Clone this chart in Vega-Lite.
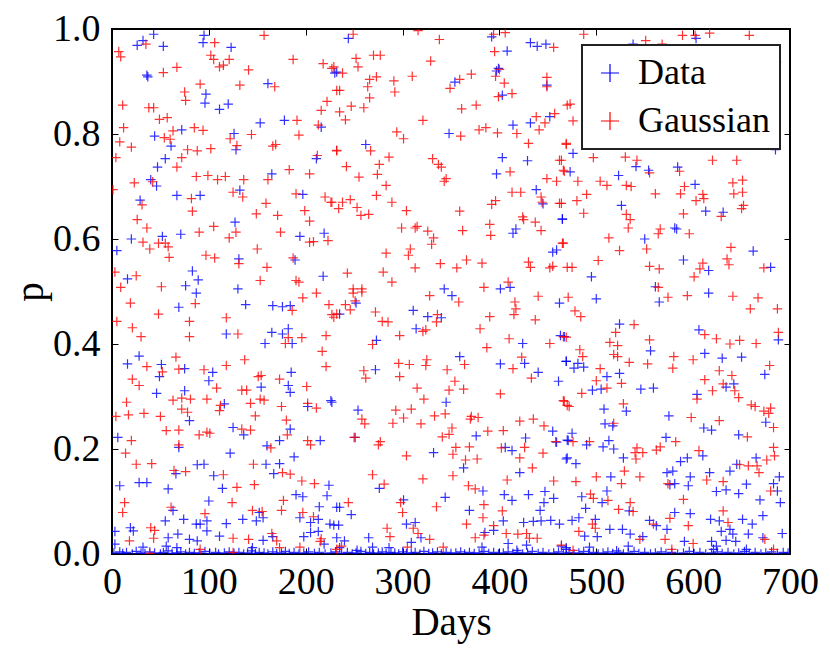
{
  "$schema": "https://vega.github.io/schema/vega-lite/v6.json",
  "width": 678,
  "height": 525,
  "autosize": "none",
  "padding": {"left": 112, "top": 29, "right": 40, "bottom": 100},
  "background": "white",
  "config": {
    "view": {"stroke": "#000000", "strokeWidth": 2},
    "font": "Liberation Serif",
    "legend": {"strokeWidth": 2}
  },
  "data": {
    "values": [
      {"d":43,"p":0.990,"s":"Data"},{"d":32,"p":0.978,"s":"Data"},{"d":26,"p":0.969,"s":"Data"},{"d":53,"p":0.967,"s":"Data"},{"d":95,"p":0.988,"s":"Data"},{"d":94,"p":0.974,"s":"Data"},{"d":123,"p":0.965,"s":"Data"},{"d":36,"p":0.912,"s":"Data"},{"d":37,"p":0.909,"s":"Data"},{"d":161,"p":0.896,"s":"Data"},{"d":97,"p":0.876,"s":"Data"},{"d":96,"p":0.859,"s":"Data"},{"d":111,"p":0.847,"s":"Data"},{"d":120,"p":0.857,"s":"Data"},{"d":153,"p":0.821,"s":"Data"},{"d":178,"p":0.826,"s":"Data"},{"d":216,"p":0.813,"s":"Data"},{"d":44,"p":0.796,"s":"Data"},{"d":72,"p":0.808,"s":"Data"},{"d":126,"p":0.801,"s":"Data"},{"d":128,"p":0.770,"s":"Data"},{"d":61,"p":0.777,"s":"Data"},{"d":55,"p":0.753,"s":"Data"},{"d":47,"p":0.737,"s":"Data"},{"d":211,"p":0.753,"s":"Data"},{"d":165,"p":0.724,"s":"Data"},{"d":40,"p":0.713,"s":"Data"},{"d":46,"p":0.701,"s":"Data"},{"d":132,"p":0.693,"s":"Data"},{"d":67,"p":0.683,"s":"Data"},{"d":91,"p":0.683,"s":"Data"},{"d":197,"p":0.685,"s":"Data"},{"d":29,"p":0.674,"s":"Data"},{"d":127,"p":0.632,"s":"Data"},{"d":20,"p":0.600,"s":"Data"},{"d":52,"p":0.605,"s":"Data"},{"d":71,"p":0.609,"s":"Data"},{"d":194,"p":0.605,"s":"Data"},{"d":219,"p":0.611,"s":"Data"},{"d":5,"p":0.578,"s":"Data"},{"d":131,"p":0.562,"s":"Data"},{"d":189,"p":0.560,"s":"Data"},{"d":83,"p":0.539,"s":"Data"},{"d":89,"p":0.522,"s":"Data"},{"d":16,"p":0.524,"s":"Data"},{"d":218,"p":0.529,"s":"Data"},{"d":76,"p":0.511,"s":"Data"},{"d":130,"p":0.505,"s":"Data"},{"d":232,"p":0.918,"s":"Data"},
      {"d":87,"p":0.497,"s":"Data"},{"d":69,"p":0.470,"s":"Data"},{"d":138,"p":0.475,"s":"Data"},{"d":166,"p":0.473,"s":"Data"},{"d":176,"p":0.471,"s":"Data"},{"d":184,"p":0.473,"s":"Data"},{"d":118,"p":0.419,"s":"Data"},{"d":165,"p":0.422,"s":"Data"},{"d":176,"p":0.419,"s":"Data"},{"d":182,"p":0.429,"s":"Data"},{"d":158,"p":0.401,"s":"Data"},{"d":186,"p":0.401,"s":"Data"},{"d":16,"p":0.362,"s":"Data"},{"d":28,"p":0.377,"s":"Data"},{"d":51,"p":0.361,"s":"Data"},{"d":75,"p":0.353,"s":"Data"},{"d":49,"p":0.338,"s":"Data"},{"d":104,"p":0.346,"s":"Data"},{"d":100,"p":0.330,"s":"Data"},{"d":154,"p":0.318,"s":"Data"},{"d":185,"p":0.346,"s":"Data"},{"d":182,"p":0.321,"s":"Data"},{"d":184,"p":0.308,"s":"Data"},{"d":75,"p":0.311,"s":"Data"},{"d":46,"p":0.306,"s":"Data"},{"d":116,"p":0.286,"s":"Data"},{"d":80,"p":0.254,"s":"Data"},{"d":125,"p":0.241,"s":"Data"},{"d":136,"p":0.227,"s":"Data"},{"d":184,"p":0.238,"s":"Data"},{"d":226,"p":0.292,"s":"Data"},{"d":202,"p":0.281,"s":"Data"},{"d":6,"p":0.222,"s":"Data"},{"d":69,"p":0.203,"s":"Data"},{"d":160,"p":0.206,"s":"Data"},{"d":173,"p":0.216,"s":"Data"},{"d":215,"p":0.216,"s":"Data"},{"d":122,"p":0.192,"s":"Data"},{"d":188,"p":0.185,"s":"Data"},{"d":88,"p":0.170,"s":"Data"},{"d":95,"p":0.171,"s":"Data"},{"d":159,"p":0.171,"s":"Data"},{"d":173,"p":0.172,"s":"Data"},{"d":66,"p":0.153,"s":"Data"},{"d":105,"p":0.149,"s":"Data"},{"d":167,"p":0.153,"s":"Data"},{"d":8,"p":0.130,"s":"Data"},{"d":28,"p":0.136,"s":"Data"},{"d":36,"p":0.136,"s":"Data"},{"d":58,"p":0.124,"s":"Data"},{"d":114,"p":0.125,"s":"Data"},{"d":100,"p":0.101,"s":"Data"},{"d":224,"p":0.131,"s":"Data"},{"d":190,"p":0.113,"s":"Data"},{"d":197,"p":0.109,"s":"Data"},{"d":222,"p":0.111,"s":"Data"},{"d":214,"p":0.090,"s":"Data"},{"d":232,"p":0.089,"s":"Data"},{"d":63,"p":0.083,"s":"Data"},{"d":152,"p":0.079,"s":"Data"},{"d":19,"p":0.050,"s":"Data"},{"d":22,"p":0.044,"s":"Data"},{"d":55,"p":0.063,"s":"Data"},{"d":74,"p":0.066,"s":"Data"},{"d":87,"p":0.057,"s":"Data"},{"d":91,"p":0.057,"s":"Data"},{"d":98,"p":0.063,"s":"Data"},{"d":118,"p":0.058,"s":"Data"},{"d":135,"p":0.066,"s":"Data"},{"d":149,"p":0.063,"s":"Data"},{"d":156,"p":0.069,"s":"Data"},{"d":194,"p":0.069,"s":"Data"},{"d":205,"p":0.060,"s":"Data"},{"d":213,"p":0.066,"s":"Data"},{"d":225,"p":0.057,"s":"Data"},{"d":3,"p":0.043,"s":"Data"},{"d":68,"p":0.038,"s":"Data"},{"d":58,"p":0.031,"s":"Data"},{"d":80,"p":0.028,"s":"Data"},{"d":98,"p":0.044,"s":"Data"},{"d":111,"p":0.034,"s":"Data"},{"d":156,"p":0.026,"s":"Data"},{"d":166,"p":0.033,"s":"Data"},{"d":198,"p":0.033,"s":"Data"},{"d":205,"p":0.041,"s":"Data"},{"d":213,"p":0.043,"s":"Data"},{"d":3,"p":0.019,"s":"Data"},{"d":32,"p":0.013,"s":"Data"},{"d":56,"p":0.015,"s":"Data"},{"d":67,"p":0.012,"s":"Data"},{"d":88,"p":0.025,"s":"Data"},{"d":145,"p":0.012,"s":"Data"},{"d":219,"p":0.019,"s":"Data"},{"d":232,"p":0.031,"s":"Data"},
      {"d":244,"p":0.982,"s":"Data"},{"d":392,"p":0.985,"s":"Data"},{"d":408,"p":0.958,"s":"Data"},{"d":432,"p":0.974,"s":"Data"},{"d":439,"p":0.967,"s":"Data"},{"d":448,"p":0.971,"s":"Data"},{"d":230,"p":0.916,"s":"Data"},{"d":399,"p":0.925,"s":"Data"},{"d":397,"p":0.920,"s":"Data"},{"d":354,"p":0.899,"s":"Data"},{"d":403,"p":0.874,"s":"Data"},{"d":449,"p":0.893,"s":"Data"},{"d":452,"p":0.833,"s":"Data"},{"d":414,"p":0.817,"s":"Data"},{"d":432,"p":0.821,"s":"Data"},{"d":348,"p":0.801,"s":"Data"},{"d":262,"p":0.780,"s":"Data"},{"d":403,"p":0.755,"s":"Data"},{"d":429,"p":0.749,"s":"Data"},{"d":397,"p":0.724,"s":"Data"},{"d":438,"p":0.694,"s":"Data"},{"d":445,"p":0.667,"s":"Data"},{"d":465,"p":0.638,"s":"Data"},{"d":417,"p":0.619,"s":"Data"},{"d":414,"p":0.611,"s":"Data"},{"d":455,"p":0.575,"s":"Data"},{"d":459,"p":0.579,"s":"Data"},{"d":343,"p":0.505,"s":"Data"},{"d":401,"p":0.505,"s":"Data"},{"d":411,"p":0.508,"s":"Data"},
      {"d":252,"p":0.478,"s":"Data"},{"d":351,"p":0.492,"s":"Data"},{"d":235,"p":0.457,"s":"Data"},{"d":311,"p":0.464,"s":"Data"},{"d":326,"p":0.452,"s":"Data"},{"d":340,"p":0.450,"s":"Data"},{"d":314,"p":0.429,"s":"Data"},{"d":273,"p":0.407,"s":"Data"},{"d":462,"p":0.478,"s":"Data"},{"d":424,"p":0.401,"s":"Data"},{"d":463,"p":0.416,"s":"Data"},{"d":359,"p":0.376,"s":"Data"},{"d":272,"p":0.351,"s":"Data"},{"d":401,"p":0.362,"s":"Data"},{"d":426,"p":0.363,"s":"Data"},{"d":440,"p":0.346,"s":"Data"},{"d":469,"p":0.367,"s":"Data"},{"d":461,"p":0.329,"s":"Data"},{"d":227,"p":0.289,"s":"Data"},{"d":345,"p":0.289,"s":"Data"},{"d":254,"p":0.274,"s":"Data"},{"d":376,"p":0.225,"s":"Data"},{"d":427,"p":0.221,"s":"Data"},{"d":406,"p":0.203,"s":"Data"},{"d":413,"p":0.197,"s":"Data"},{"d":455,"p":0.234,"s":"Data"},{"d":459,"p":0.213,"s":"Data"},{"d":470,"p":0.217,"s":"Data"},{"d":251,"p":0.222,"s":"Data"},{"d":332,"p":0.193,"s":"Data"},{"d":363,"p":0.164,"s":"Data"},{"d":421,"p":0.155,"s":"Data"},{"d":469,"p":0.181,"s":"Data"},{"d":276,"p":0.125,"s":"Data"},{"d":383,"p":0.120,"s":"Data"},{"d":405,"p":0.113,"s":"Data"},{"d":413,"p":0.102,"s":"Data"},{"d":430,"p":0.113,"s":"Data"},{"d":447,"p":0.119,"s":"Data"},{"d":456,"p":0.106,"s":"Data"},{"d":446,"p":0.098,"s":"Data"},{"d":442,"p":0.083,"s":"Data"},{"d":344,"p":0.108,"s":"Data"},{"d":369,"p":0.083,"s":"Data"},{"d":235,"p":0.089,"s":"Data"},{"d":247,"p":0.075,"s":"Data"},{"d":301,"p":0.103,"s":"Data"},{"d":229,"p":0.055,"s":"Data"},{"d":234,"p":0.055,"s":"Data"},{"d":304,"p":0.057,"s":"Data"},{"d":313,"p":0.060,"s":"Data"},{"d":404,"p":0.063,"s":"Data"},{"d":425,"p":0.060,"s":"Data"},{"d":435,"p":0.062,"s":"Data"},{"d":443,"p":0.063,"s":"Data"},{"d":453,"p":0.064,"s":"Data"},{"d":462,"p":0.057,"s":"Data"},{"d":265,"p":0.031,"s":"Data"},{"d":319,"p":0.031,"s":"Data"},{"d":309,"p":0.022,"s":"Data"},{"d":240,"p":0.025,"s":"Data"},{"d":385,"p":0.041,"s":"Data"},{"d":394,"p":0.045,"s":"Data"},{"d":409,"p":0.020,"s":"Data"},{"d":428,"p":0.017,"s":"Data"},{"d":235,"p":0.012,"s":"Data"},{"d":253,"p":0.007,"s":"Data"},{"d":269,"p":0.013,"s":"Data"},{"d":286,"p":0.012,"s":"Data"},{"d":382,"p":0.013,"s":"Data"},{"d":418,"p":0.007,"s":"Data"},{"d":469,"p":0.012,"s":"Data"},
      {"d":538,"p":0.971,"s":"Data"},{"d":603,"p":0.982,"s":"Data"},{"d":476,"p":0.763,"s":"Data"},{"d":541,"p":0.738,"s":"Data"},{"d":554,"p":0.731,"s":"Data"},{"d":584,"p":0.737,"s":"Data"},{"d":473,"p":0.728,"s":"Data"},{"d":523,"p":0.721,"s":"Data"},{"d":602,"p":0.704,"s":"Data"},{"d":526,"p":0.664,"s":"Data"},{"d":613,"p":0.653,"s":"Data"},{"d":631,"p":0.651,"s":"Data"},{"d":465,"p":0.638,"s":"Data"},{"d":581,"p":0.621,"s":"Data"},{"d":583,"p":0.619,"s":"Data"},{"d":550,"p":0.600,"s":"Data"},{"d":662,"p":0.577,"s":"Data"},{"d":590,"p":0.560,"s":"Data"},{"d":616,"p":0.540,"s":"Data"},{"d":680,"p":0.546,"s":"Data"},{"d":495,"p":0.528,"s":"Data"},{"d":561,"p":0.509,"s":"Data"},{"d":685,"p":0.770,"s":"Data"},
      {"d":500,"p":0.486,"s":"Data"},{"d":565,"p":0.480,"s":"Data"},{"d":616,"p":0.497,"s":"Data"},{"d":524,"p":0.438,"s":"Data"},{"d":606,"p":0.427,"s":"Data"},{"d":688,"p":0.408,"s":"Data"},{"d":467,"p":0.414,"s":"Data"},{"d":556,"p":0.387,"s":"Data"},{"d":612,"p":0.382,"s":"Data"},{"d":630,"p":0.373,"s":"Data"},{"d":650,"p":0.375,"s":"Data"},{"d":469,"p":0.367,"s":"Data"},{"d":477,"p":0.354,"s":"Data"},{"d":481,"p":0.363,"s":"Data"},{"d":487,"p":0.356,"s":"Data"},{"d":674,"p":0.342,"s":"Data"},{"d":511,"p":0.338,"s":"Data"},{"d":524,"p":0.344,"s":"Data"},{"d":496,"p":0.312,"s":"Data"},{"d":505,"p":0.314,"s":"Data"},{"d":546,"p":0.314,"s":"Data"},{"d":559,"p":0.316,"s":"Data"},{"d":634,"p":0.318,"s":"Data"},{"d":642,"p":0.324,"s":"Data"},{"d":604,"p":0.304,"s":"Data"},{"d":508,"p":0.276,"s":"Data"},{"d":531,"p":0.272,"s":"Data"},{"d":575,"p":0.263,"s":"Data"},{"d":509,"p":0.248,"s":"Data"},{"d":517,"p":0.244,"s":"Data"},{"d":611,"p":0.240,"s":"Data"},{"d":619,"p":0.236,"s":"Data"},{"d":675,"p":0.251,"s":"Data"},{"d":475,"p":0.230,"s":"Data"},{"d":471,"p":0.216,"s":"Data"},{"d":490,"p":0.208,"s":"Data"},{"d":507,"p":0.204,"s":"Data"},{"d":513,"p":0.216,"s":"Data"},{"d":518,"p":0.200,"s":"Data"},{"d":572,"p":0.222,"s":"Data"},{"d":647,"p":0.227,"s":"Data"},{"d":528,"p":0.183,"s":"Data"},{"d":470,"p":0.183,"s":"Data"},{"d":479,"p":0.172,"s":"Data"},{"d":587,"p":0.176,"s":"Data"},{"d":594,"p":0.183,"s":"Data"},{"d":610,"p":0.187,"s":"Data"},{"d":665,"p":0.183,"s":"Data"},{"d":645,"p":0.171,"s":"Data"},{"d":638,"p":0.158,"s":"Data"},{"d":573,"p":0.155,"s":"Data"},{"d":579,"p":0.158,"s":"Data"},{"d":597,"p":0.147,"s":"Data"},{"d":617,"p":0.155,"s":"Data"},{"d":689,"p":0.147,"s":"Data"},{"d":683,"p":0.134,"s":"Data"},{"d":515,"p":0.147,"s":"Data"},{"d":511,"p":0.120,"s":"Data"},{"d":576,"p":0.132,"s":"Data"},{"d":581,"p":0.134,"s":"Data"},{"d":595,"p":0.130,"s":"Data"},{"d":624,"p":0.119,"s":"Data"},{"d":634,"p":0.122,"s":"Data"},{"d":647,"p":0.115,"s":"Data"},{"d":655,"p":0.133,"s":"Data"},{"d":687,"p":0.120,"s":"Data"},{"d":690,"p":0.098,"s":"Data"},{"d":669,"p":0.103,"s":"Data"},{"d":485,"p":0.109,"s":"Data"},{"d":506,"p":0.098,"s":"Data"},{"d":489,"p":0.087,"s":"Data"},{"d":534,"p":0.082,"s":"Data"},{"d":581,"p":0.079,"s":"Data"},{"d":597,"p":0.077,"s":"Data"},{"d":672,"p":0.073,"s":"Data"},{"d":475,"p":0.064,"s":"Data"},{"d":482,"p":0.069,"s":"Data"},{"d":499,"p":0.066,"s":"Data"},{"d":555,"p":0.064,"s":"Data"},{"d":562,"p":0.054,"s":"Data"},{"d":618,"p":0.066,"s":"Data"},{"d":627,"p":0.063,"s":"Data"},{"d":651,"p":0.066,"s":"Data"},{"d":661,"p":0.057,"s":"Data"},{"d":514,"p":0.047,"s":"Data"},{"d":527,"p":0.047,"s":"Data"},{"d":535,"p":0.038,"s":"Data"},{"d":573,"p":0.047,"s":"Data"},{"d":629,"p":0.043,"s":"Data"},{"d":638,"p":0.047,"s":"Data"},{"d":641,"p":0.038,"s":"Data"},{"d":657,"p":0.038,"s":"Data"},{"d":692,"p":0.039,"s":"Data"},{"d":488,"p":0.034,"s":"Data"},{"d":501,"p":0.033,"s":"Data"},{"d":548,"p":0.033,"s":"Data"},{"d":591,"p":0.024,"s":"Data"},{"d":619,"p":0.024,"s":"Data"},{"d":624,"p":0.015,"s":"Data"},{"d":634,"p":0.026,"s":"Data"},{"d":644,"p":0.024,"s":"Data"},{"d":672,"p":0.031,"s":"Data"},{"d":464,"p":0.015,"s":"Data"},{"d":469,"p":0.009,"s":"Data"},{"d":493,"p":0.013,"s":"Data"},{"d":533,"p":0.015,"s":"Data"},{"d":521,"p":0.006,"s":"Data"},{"d":621,"p":0.009,"s":"Data"},{"d":655,"p":0.009,"s":"Data"},
      {"d":2,"p":0.002,"s":"Data"},{"d":8,"p":0.004,"s":"Data"},{"d":11,"p":0.001,"s":"Data"},{"d":15,"p":0.003,"s":"Data"},{"d":21,"p":0.000,"s":"Data"},{"d":25,"p":0.005,"s":"Data"},{"d":30,"p":0.002,"s":"Data"},{"d":34,"p":0.001,"s":"Data"},{"d":39,"p":0.004,"s":"Data"},{"d":44,"p":0.002,"s":"Data"},{"d":50,"p":0.000,"s":"Data"},{"d":53,"p":0.003,"s":"Data"},{"d":58,"p":0.006,"s":"Data"},{"d":62,"p":0.001,"s":"Data"},{"d":67,"p":0.002,"s":"Data"},{"d":71,"p":0.004,"s":"Data"},{"d":76,"p":0.000,"s":"Data"},{"d":80,"p":0.003,"s":"Data"},{"d":85,"p":0.001,"s":"Data"},{"d":90,"p":0.002,"s":"Data"},{"d":96,"p":0.005,"s":"Data"},{"d":101,"p":0.001,"s":"Data"},{"d":107,"p":0.003,"s":"Data"},{"d":110,"p":0.000,"s":"Data"},{"d":116,"p":0.002,"s":"Data"},{"d":121,"p":0.004,"s":"Data"},{"d":126,"p":0.001,"s":"Data"},{"d":131,"p":0.003,"s":"Data"},{"d":136,"p":0.000,"s":"Data"},{"d":140,"p":0.002,"s":"Data"},{"d":144,"p":0.006,"s":"Data"},{"d":148,"p":0.001,"s":"Data"},{"d":152,"p":0.003,"s":"Data"},{"d":157,"p":0.002,"s":"Data"},{"d":161,"p":0.000,"s":"Data"},{"d":166,"p":0.004,"s":"Data"},{"d":170,"p":0.001,"s":"Data"},{"d":175,"p":0.002,"s":"Data"},{"d":179,"p":0.005,"s":"Data"},{"d":183,"p":0.001,"s":"Data"},{"d":188,"p":0.003,"s":"Data"},{"d":193,"p":0.000,"s":"Data"},{"d":198,"p":0.002,"s":"Data"},{"d":203,"p":0.004,"s":"Data"},{"d":209,"p":0.001,"s":"Data"},{"d":214,"p":0.003,"s":"Data"},{"d":220,"p":0.000,"s":"Data"},{"d":226,"p":0.002,"s":"Data"},{"d":231,"p":0.004,"s":"Data"},{"d":237,"p":0.001,"s":"Data"},{"d":243,"p":0.003,"s":"Data"},{"d":248,"p":0.000,"s":"Data"},{"d":252,"p":0.002,"s":"Data"},{"d":257,"p":0.005,"s":"Data"},{"d":262,"p":0.001,"s":"Data"},{"d":266,"p":0.003,"s":"Data"},{"d":270,"p":0.000,"s":"Data"},{"d":275,"p":0.002,"s":"Data"},{"d":279,"p":0.004,"s":"Data"},{"d":283,"p":0.001,"s":"Data"},{"d":288,"p":0.003,"s":"Data"},{"d":292,"p":0.002,"s":"Data"},{"d":296,"p":0.000,"s":"Data"},{"d":300,"p":0.004,"s":"Data"},{"d":304,"p":0.001,"s":"Data"},{"d":309,"p":0.002,"s":"Data"},{"d":313,"p":0.003,"s":"Data"},{"d":318,"p":0.000,"s":"Data"},{"d":322,"p":0.005,"s":"Data"},{"d":327,"p":0.001,"s":"Data"},{"d":331,"p":0.002,"s":"Data"},{"d":336,"p":0.004,"s":"Data"},{"d":340,"p":0.000,"s":"Data"},{"d":345,"p":0.003,"s":"Data"},{"d":350,"p":0.001,"s":"Data"},{"d":355,"p":0.002,"s":"Data"},{"d":360,"p":0.004,"s":"Data"},{"d":364,"p":0.000,"s":"Data"},{"d":369,"p":0.003,"s":"Data"},{"d":374,"p":0.001,"s":"Data"},{"d":379,"p":0.002,"s":"Data"},{"d":384,"p":0.005,"s":"Data"},{"d":389,"p":0.001,"s":"Data"},{"d":394,"p":0.003,"s":"Data"},{"d":399,"p":0.000,"s":"Data"},{"d":404,"p":0.002,"s":"Data"},{"d":409,"p":0.004,"s":"Data"},{"d":414,"p":0.001,"s":"Data"},{"d":419,"p":0.003,"s":"Data"},{"d":424,"p":0.000,"s":"Data"},{"d":429,"p":0.002,"s":"Data"},{"d":434,"p":0.005,"s":"Data"},{"d":440,"p":0.001,"s":"Data"},{"d":445,"p":0.003,"s":"Data"},{"d":451,"p":0.000,"s":"Data"},{"d":456,"p":0.002,"s":"Data"},{"d":461,"p":0.004,"s":"Data"},{"d":466,"p":0.001,"s":"Data"},{"d":472,"p":0.003,"s":"Data"},{"d":477,"p":0.000,"s":"Data"},{"d":482,"p":0.002,"s":"Data"},{"d":487,"p":0.005,"s":"Data"},{"d":492,"p":0.001,"s":"Data"},{"d":497,"p":0.003,"s":"Data"},{"d":502,"p":0.000,"s":"Data"},{"d":507,"p":0.002,"s":"Data"},{"d":512,"p":0.004,"s":"Data"},{"d":517,"p":0.001,"s":"Data"},{"d":523,"p":0.003,"s":"Data"},{"d":528,"p":0.000,"s":"Data"},{"d":533,"p":0.002,"s":"Data"},{"d":539,"p":0.005,"s":"Data"},{"d":544,"p":0.001,"s":"Data"},{"d":550,"p":0.003,"s":"Data"},{"d":556,"p":0.000,"s":"Data"},{"d":561,"p":0.002,"s":"Data"},{"d":567,"p":0.004,"s":"Data"},{"d":572,"p":0.001,"s":"Data"},{"d":578,"p":0.003,"s":"Data"},{"d":584,"p":0.000,"s":"Data"},{"d":590,"p":0.002,"s":"Data"},{"d":596,"p":0.005,"s":"Data"},{"d":601,"p":0.001,"s":"Data"},{"d":607,"p":0.003,"s":"Data"},{"d":613,"p":0.000,"s":"Data"},{"d":619,"p":0.002,"s":"Data"},{"d":625,"p":0.004,"s":"Data"},{"d":630,"p":0.001,"s":"Data"},{"d":636,"p":0.003,"s":"Data"},{"d":642,"p":0.000,"s":"Data"},{"d":647,"p":0.002,"s":"Data"},{"d":653,"p":0.005,"s":"Data"},{"d":658,"p":0.001,"s":"Data"},{"d":664,"p":0.003,"s":"Data"},{"d":670,"p":0.000,"s":"Data"},{"d":675,"p":0.002,"s":"Data"},{"d":681,"p":0.004,"s":"Data"},{"d":687,"p":0.001,"s":"Data"},{"d":693,"p":0.003,"s":"Data"},{"d":698,"p":0.002,"s":"Data"},
      {"d":157,"p":0.988,"s":"Gaussian"},{"d":7,"p":0.957,"s":"Gaussian"},{"d":9,"p":0.947,"s":"Gaussian"},{"d":35,"p":0.971,"s":"Gaussian"},{"d":106,"p":0.974,"s":"Gaussian"},{"d":102,"p":0.950,"s":"Gaussian"},{"d":105,"p":0.942,"s":"Gaussian"},{"d":121,"p":0.942,"s":"Gaussian"},{"d":111,"p":0.928,"s":"Gaussian"},{"d":115,"p":0.931,"s":"Gaussian"},{"d":67,"p":0.927,"s":"Gaussian"},{"d":53,"p":0.917,"s":"Gaussian"},{"d":141,"p":0.922,"s":"Gaussian"},{"d":187,"p":0.942,"s":"Gaussian"},{"d":218,"p":0.934,"s":"Gaussian"},{"d":227,"p":0.925,"s":"Gaussian"},{"d":91,"p":0.895,"s":"Gaussian"},{"d":132,"p":0.893,"s":"Gaussian"},{"d":168,"p":0.890,"s":"Gaussian"},{"d":75,"p":0.880,"s":"Gaussian"},{"d":76,"p":0.864,"s":"Gaussian"},{"d":11,"p":0.855,"s":"Gaussian"},{"d":38,"p":0.850,"s":"Gaussian"},{"d":43,"p":0.850,"s":"Gaussian"},{"d":49,"p":0.828,"s":"Gaussian"},{"d":57,"p":0.831,"s":"Gaussian"},{"d":222,"p":0.862,"s":"Gaussian"},{"d":216,"p":0.845,"s":"Gaussian"},{"d":232,"p":0.883,"s":"Gaussian"},{"d":12,"p":0.812,"s":"Gaussian"},{"d":63,"p":0.806,"s":"Gaussian"},{"d":85,"p":0.812,"s":"Gaussian"},{"d":94,"p":0.807,"s":"Gaussian"},{"d":191,"p":0.826,"s":"Gaussian"},{"d":193,"p":0.798,"s":"Gaussian"},{"d":213,"p":0.817,"s":"Gaussian"},{"d":144,"p":0.799,"s":"Gaussian"},{"d":122,"p":0.791,"s":"Gaussian"},{"d":129,"p":0.778,"s":"Gaussian"},{"d":166,"p":0.777,"s":"Gaussian"},{"d":169,"p":0.780,"s":"Gaussian"},{"d":8,"p":0.785,"s":"Gaussian"},{"d":20,"p":0.775,"s":"Gaussian"},{"d":54,"p":0.793,"s":"Gaussian"},{"d":60,"p":0.790,"s":"Gaussian"},{"d":78,"p":0.770,"s":"Gaussian"},{"d":88,"p":0.768,"s":"Gaussian"},{"d":102,"p":0.772,"s":"Gaussian"},{"d":4,"p":0.755,"s":"Gaussian"},{"d":72,"p":0.755,"s":"Gaussian"},{"d":67,"p":0.737,"s":"Gaussian"},{"d":212,"p":0.759,"s":"Gaussian"},{"d":232,"p":0.769,"s":"Gaussian"},{"d":183,"p":0.732,"s":"Gaussian"},{"d":87,"p":0.719,"s":"Gaussian"},{"d":99,"p":0.721,"s":"Gaussian"},{"d":109,"p":0.713,"s":"Gaussian"},{"d":117,"p":0.719,"s":"Gaussian"},{"d":136,"p":0.713,"s":"Gaussian"},{"d":161,"p":0.713,"s":"Gaussian"},{"d":204,"p":0.724,"s":"Gaussian"},{"d":23,"p":0.707,"s":"Gaussian"},{"d":42,"p":0.709,"s":"Gaussian"},{"d":1,"p":0.694,"s":"Gaussian"},{"d":125,"p":0.689,"s":"Gaussian"},{"d":135,"p":0.680,"s":"Gaussian"},{"d":82,"p":0.677,"s":"Gaussian"},{"d":159,"p":0.668,"s":"Gaussian"},{"d":190,"p":0.686,"s":"Gaussian"},{"d":220,"p":0.680,"s":"Gaussian"},{"d":226,"p":0.670,"s":"Gaussian"},{"d":31,"p":0.665,"s":"Gaussian"},{"d":83,"p":0.653,"s":"Gaussian"},{"d":149,"p":0.648,"s":"Gaussian"},{"d":171,"p":0.645,"s":"Gaussian"},{"d":199,"p":0.654,"s":"Gaussian"},{"d":204,"p":0.634,"s":"Gaussian"},{"d":26,"p":0.637,"s":"Gaussian"},{"d":36,"p":0.621,"s":"Gaussian"},{"d":105,"p":0.624,"s":"Gaussian"},{"d":90,"p":0.613,"s":"Gaussian"},{"d":128,"p":0.613,"s":"Gaussian"},{"d":121,"p":0.602,"s":"Gaussian"},{"d":174,"p":0.613,"s":"Gaussian"},{"d":32,"p":0.594,"s":"Gaussian"},{"d":48,"p":0.592,"s":"Gaussian"},{"d":39,"p":0.581,"s":"Gaussian"},{"d":55,"p":0.592,"s":"Gaussian"},{"d":58,"p":0.585,"s":"Gaussian"},{"d":59,"p":0.565,"s":"Gaussian"},{"d":150,"p":0.581,"s":"Gaussian"},{"d":204,"p":0.594,"s":"Gaussian"},{"d":208,"p":0.595,"s":"Gaussian"},{"d":223,"p":0.597,"s":"Gaussian"},{"d":97,"p":0.569,"s":"Gaussian"},{"d":106,"p":0.564,"s":"Gaussian"},{"d":187,"p":0.564,"s":"Gaussian"},{"d":131,"p":0.553,"s":"Gaussian"},{"d":160,"p":0.546,"s":"Gaussian"},{"d":3,"p":0.537,"s":"Gaussian"},{"d":25,"p":0.530,"s":"Gaussian"},{"d":9,"p":0.508,"s":"Gaussian"},{"d":51,"p":0.509,"s":"Gaussian"},{"d":153,"p":0.521,"s":"Gaussian"},{"d":190,"p":0.521,"s":"Gaussian"},{"d":193,"p":0.518,"s":"Gaussian"},
      {"d":19,"p":0.478,"s":"Gaussian"},{"d":48,"p":0.457,"s":"Gaussian"},{"d":5,"p":0.443,"s":"Gaussian"},{"d":21,"p":0.431,"s":"Gaussian"},{"d":30,"p":0.414,"s":"Gaussian"},{"d":80,"p":0.443,"s":"Gaussian"},{"d":86,"p":0.477,"s":"Gaussian"},{"d":80,"p":0.414,"s":"Gaussian"},{"d":118,"p":0.450,"s":"Gaussian"},{"d":130,"p":0.419,"s":"Gaussian"},{"d":186,"p":0.464,"s":"Gaussian"},{"d":197,"p":0.488,"s":"Gaussian"},{"d":211,"p":0.497,"s":"Gaussian"},{"d":224,"p":0.475,"s":"Gaussian"},{"d":227,"p":0.456,"s":"Gaussian"},{"d":232,"p":0.457,"s":"Gaussian"},{"d":221,"p":0.416,"s":"Gaussian"},{"d":217,"p":0.386,"s":"Gaussian"},{"d":221,"p":0.357,"s":"Gaussian"},{"d":196,"p":0.412,"s":"Gaussian"},{"d":182,"p":0.412,"s":"Gaussian"},{"d":179,"p":0.401,"s":"Gaussian"},{"d":36,"p":0.357,"s":"Gaussian"},{"d":66,"p":0.375,"s":"Gaussian"},{"d":69,"p":0.352,"s":"Gaussian"},{"d":21,"p":0.333,"s":"Gaussian"},{"d":28,"p":0.321,"s":"Gaussian"},{"d":52,"p":0.347,"s":"Gaussian"},{"d":95,"p":0.351,"s":"Gaussian"},{"d":118,"p":0.359,"s":"Gaussian"},{"d":137,"p":0.370,"s":"Gaussian"},{"d":151,"p":0.338,"s":"Gaussian"},{"d":154,"p":0.340,"s":"Gaussian"},{"d":173,"p":0.333,"s":"Gaussian"},{"d":201,"p":0.319,"s":"Gaussian"},{"d":108,"p":0.316,"s":"Gaussian"},{"d":134,"p":0.312,"s":"Gaussian"},{"d":139,"p":0.312,"s":"Gaussian"},{"d":15,"p":0.289,"s":"Gaussian"},{"d":17,"p":0.265,"s":"Gaussian"},{"d":33,"p":0.268,"s":"Gaussian"},{"d":50,"p":0.262,"s":"Gaussian"},{"d":63,"p":0.293,"s":"Gaussian"},{"d":72,"p":0.297,"s":"Gaussian"},{"d":81,"p":0.295,"s":"Gaussian"},{"d":98,"p":0.295,"s":"Gaussian"},{"d":72,"p":0.276,"s":"Gaussian"},{"d":78,"p":0.270,"s":"Gaussian"},{"d":111,"p":0.273,"s":"Gaussian"},{"d":112,"p":0.283,"s":"Gaussian"},{"d":143,"p":0.287,"s":"Gaussian"},{"d":153,"p":0.295,"s":"Gaussian"},{"d":157,"p":0.293,"s":"Gaussian"},{"d":175,"p":0.281,"s":"Gaussian"},{"d":202,"p":0.287,"s":"Gaussian"},{"d":211,"p":0.278,"s":"Gaussian"},{"d":148,"p":0.263,"s":"Gaussian"},{"d":180,"p":0.255,"s":"Gaussian"},{"d":4,"p":0.262,"s":"Gaussian"},{"d":56,"p":0.235,"s":"Gaussian"},{"d":69,"p":0.236,"s":"Gaussian"},{"d":90,"p":0.227,"s":"Gaussian"},{"d":98,"p":0.232,"s":"Gaussian"},{"d":101,"p":0.230,"s":"Gaussian"},{"d":134,"p":0.238,"s":"Gaussian"},{"d":143,"p":0.236,"s":"Gaussian"},{"d":20,"p":0.216,"s":"Gaussian"},{"d":69,"p":0.208,"s":"Gaussian"},{"d":181,"p":0.227,"s":"Gaussian"},{"d":202,"p":0.216,"s":"Gaussian"},{"d":205,"p":0.208,"s":"Gaussian"},{"d":164,"p":0.202,"s":"Gaussian"},{"d":14,"p":0.192,"s":"Gaussian"},{"d":25,"p":0.171,"s":"Gaussian"},{"d":41,"p":0.172,"s":"Gaussian"},{"d":146,"p":0.171,"s":"Gaussian"},{"d":64,"p":0.159,"s":"Gaussian"},{"d":76,"p":0.157,"s":"Gaussian"},{"d":115,"p":0.151,"s":"Gaussian"},{"d":176,"p":0.155,"s":"Gaussian"},{"d":184,"p":0.152,"s":"Gaussian"},{"d":147,"p":0.132,"s":"Gaussian"},{"d":129,"p":0.127,"s":"Gaussian"},{"d":196,"p":0.139,"s":"Gaussian"},{"d":209,"p":0.134,"s":"Gaussian"},{"d":13,"p":0.098,"s":"Gaussian"},{"d":11,"p":0.079,"s":"Gaussian"},{"d":61,"p":0.089,"s":"Gaussian"},{"d":124,"p":0.098,"s":"Gaussian"},{"d":96,"p":0.077,"s":"Gaussian"},{"d":145,"p":0.083,"s":"Gaussian"},{"d":155,"p":0.081,"s":"Gaussian"},{"d":175,"p":0.083,"s":"Gaussian"},{"d":177,"p":0.102,"s":"Gaussian"},{"d":197,"p":0.079,"s":"Gaussian"},{"d":208,"p":0.071,"s":"Gaussian"},{"d":40,"p":0.050,"s":"Gaussian"},{"d":44,"p":0.045,"s":"Gaussian"},{"d":43,"p":0.030,"s":"Gaussian"},{"d":18,"p":0.025,"s":"Gaussian"},{"d":91,"p":0.009,"s":"Gaussian"},{"d":125,"p":0.030,"s":"Gaussian"},{"d":141,"p":0.028,"s":"Gaussian"},{"d":165,"p":0.039,"s":"Gaussian"},{"d":170,"p":0.025,"s":"Gaussian"},{"d":173,"p":0.012,"s":"Gaussian"},{"d":194,"p":0.013,"s":"Gaussian"},{"d":215,"p":0.024,"s":"Gaussian"},{"d":216,"p":0.029,"s":"Gaussian"},{"d":232,"p":0.009,"s":"Gaussian"},{"d":39,"p":0.001,"s":"Gaussian"},{"d":125,"p":0.003,"s":"Gaussian"},
      {"d":249,"p":0.990,"s":"Gaussian"},{"d":316,"p":0.997,"s":"Gaussian"},{"d":338,"p":0.980,"s":"Gaussian"},{"d":394,"p":0.990,"s":"Gaussian"},{"d":406,"p":0.993,"s":"Gaussian"},{"d":395,"p":0.957,"s":"Gaussian"},{"d":456,"p":0.965,"s":"Gaussian"},{"d":252,"p":0.944,"s":"Gaussian"},{"d":254,"p":0.928,"s":"Gaussian"},{"d":270,"p":0.950,"s":"Gaussian"},{"d":277,"p":0.950,"s":"Gaussian"},{"d":329,"p":0.939,"s":"Gaussian"},{"d":229,"p":0.928,"s":"Gaussian"},{"d":238,"p":0.916,"s":"Gaussian"},{"d":266,"p":0.904,"s":"Gaussian"},{"d":273,"p":0.909,"s":"Gaussian"},{"d":264,"p":0.890,"s":"Gaussian"},{"d":291,"p":0.901,"s":"Gaussian"},{"d":292,"p":0.880,"s":"Gaussian"},{"d":310,"p":0.910,"s":"Gaussian"},{"d":266,"p":0.869,"s":"Gaussian"},{"d":235,"p":0.883,"s":"Gaussian"},{"d":359,"p":0.904,"s":"Gaussian"},{"d":349,"p":0.887,"s":"Gaussian"},{"d":371,"p":0.914,"s":"Gaussian"},{"d":396,"p":0.910,"s":"Gaussian"},{"d":405,"p":0.897,"s":"Gaussian"},{"d":400,"p":0.923,"s":"Gaussian"},{"d":413,"p":0.877,"s":"Gaussian"},{"d":399,"p":0.871,"s":"Gaussian"},{"d":449,"p":0.908,"s":"Gaussian"},{"d":449,"p":0.890,"s":"Gaussian"},{"d":470,"p":0.855,"s":"Gaussian"},{"d":247,"p":0.853,"s":"Gaussian"},{"d":260,"p":0.850,"s":"Gaussian"},{"d":235,"p":0.842,"s":"Gaussian"},{"d":241,"p":0.827,"s":"Gaussian"},{"d":321,"p":0.826,"s":"Gaussian"},{"d":361,"p":0.848,"s":"Gaussian"},{"d":376,"p":0.855,"s":"Gaussian"},{"d":438,"p":0.833,"s":"Gaussian"},{"d":447,"p":0.821,"s":"Gaussian"},{"d":441,"p":0.808,"s":"Gaussian"},{"d":457,"p":0.839,"s":"Gaussian"},{"d":379,"p":0.808,"s":"Gaussian"},{"d":386,"p":0.812,"s":"Gaussian"},{"d":398,"p":0.802,"s":"Gaussian"},{"d":418,"p":0.801,"s":"Gaussian"},{"d":360,"p":0.796,"s":"Gaussian"},{"d":294,"p":0.804,"s":"Gaussian"},{"d":301,"p":0.791,"s":"Gaussian"},{"d":430,"p":0.782,"s":"Gaussian"},{"d":469,"p":0.780,"s":"Gaussian"},{"d":232,"p":0.768,"s":"Gaussian"},{"d":267,"p":0.768,"s":"Gaussian"},{"d":286,"p":0.756,"s":"Gaussian"},{"d":276,"p":0.742,"s":"Gaussian"},{"d":242,"p":0.738,"s":"Gaussian"},{"d":255,"p":0.718,"s":"Gaussian"},{"d":274,"p":0.723,"s":"Gaussian"},{"d":331,"p":0.753,"s":"Gaussian"},{"d":337,"p":0.742,"s":"Gaussian"},{"d":340,"p":0.737,"s":"Gaussian"},{"d":345,"p":0.715,"s":"Gaussian"},{"d":343,"p":0.710,"s":"Gaussian"},{"d":411,"p":0.728,"s":"Gaussian"},{"d":462,"p":0.750,"s":"Gaussian"},{"d":466,"p":0.731,"s":"Gaussian"},{"d":449,"p":0.715,"s":"Gaussian"},{"d":459,"p":0.710,"s":"Gaussian"},{"d":283,"p":0.702,"s":"Gaussian"},{"d":273,"p":0.683,"s":"Gaussian"},{"d":289,"p":0.670,"s":"Gaussian"},{"d":413,"p":0.689,"s":"Gaussian"},{"d":422,"p":0.689,"s":"Gaussian"},{"d":443,"p":0.680,"s":"Gaussian"},{"d":444,"p":0.670,"s":"Gaussian"},{"d":462,"p":0.668,"s":"Gaussian"},{"d":227,"p":0.670,"s":"Gaussian"},{"d":238,"p":0.670,"s":"Gaussian"},{"d":234,"p":0.658,"s":"Gaussian"},{"d":246,"p":0.675,"s":"Gaussian"},{"d":253,"p":0.660,"s":"Gaussian"},{"d":257,"p":0.645,"s":"Gaussian"},{"d":265,"p":0.647,"s":"Gaussian"},{"d":304,"p":0.654,"s":"Gaussian"},{"d":359,"p":0.653,"s":"Gaussian"},{"d":396,"p":0.673,"s":"Gaussian"},{"d":392,"p":0.666,"s":"Gaussian"},{"d":424,"p":0.642,"s":"Gaussian"},{"d":425,"p":0.637,"s":"Gaussian"},{"d":437,"p":0.632,"s":"Gaussian"},{"d":443,"p":0.616,"s":"Gaussian"},{"d":390,"p":0.628,"s":"Gaussian"},{"d":391,"p":0.607,"s":"Gaussian"},{"d":299,"p":0.621,"s":"Gaussian"},{"d":313,"p":0.621,"s":"Gaussian"},{"d":315,"p":0.624,"s":"Gaussian"},{"d":326,"p":0.615,"s":"Gaussian"},{"d":332,"p":0.602,"s":"Gaussian"},{"d":330,"p":0.590,"s":"Gaussian"},{"d":362,"p":0.616,"s":"Gaussian"},{"d":283,"p":0.573,"s":"Gaussian"},{"d":308,"p":0.581,"s":"Gaussian"},{"d":306,"p":0.569,"s":"Gaussian"},{"d":465,"p":0.592,"s":"Gaussian"},{"d":313,"p":0.545,"s":"Gaussian"},{"d":339,"p":0.553,"s":"Gaussian"},{"d":356,"p":0.545,"s":"Gaussian"},{"d":366,"p":0.560,"s":"Gaussian"},{"d":382,"p":0.554,"s":"Gaussian"},{"d":430,"p":0.556,"s":"Gaussian"},{"d":432,"p":0.546,"s":"Gaussian"},{"d":452,"p":0.545,"s":"Gaussian"},{"d":455,"p":0.548,"s":"Gaussian"},{"d":470,"p":0.546,"s":"Gaussian"},{"d":243,"p":0.535,"s":"Gaussian"},{"d":280,"p":0.537,"s":"Gaussian"},{"d":289,"p":0.518,"s":"Gaussian"},{"d":409,"p":0.518,"s":"Gaussian"},{"d":249,"p":0.505,"s":"Gaussian"},{"d":258,"p":0.505,"s":"Gaussian"},{"d":384,"p":0.508,"s":"Gaussian"},
      {"d":249,"p":0.497,"s":"Gaussian"},{"d":258,"p":0.499,"s":"Gaussian"},{"d":241,"p":0.475,"s":"Gaussian"},{"d":246,"p":0.465,"s":"Gaussian"},{"d":251,"p":0.482,"s":"Gaussian"},{"d":328,"p":0.492,"s":"Gaussian"},{"d":358,"p":0.480,"s":"Gaussian"},{"d":229,"p":0.451,"s":"Gaussian"},{"d":272,"p":0.461,"s":"Gaussian"},{"d":279,"p":0.443,"s":"Gaussian"},{"d":285,"p":0.442,"s":"Gaussian"},{"d":336,"p":0.456,"s":"Gaussian"},{"d":335,"p":0.442,"s":"Gaussian"},{"d":321,"p":0.424,"s":"Gaussian"},{"d":324,"p":0.427,"s":"Gaussian"},{"d":297,"p":0.416,"s":"Gaussian"},{"d":269,"p":0.399,"s":"Gaussian"},{"d":390,"p":0.452,"s":"Gaussian"},{"d":380,"p":0.429,"s":"Gaussian"},{"d":416,"p":0.480,"s":"Gaussian"},{"d":417,"p":0.467,"s":"Gaussian"},{"d":415,"p":0.456,"s":"Gaussian"},{"d":440,"p":0.491,"s":"Gaussian"},{"d":437,"p":0.446,"s":"Gaussian"},{"d":410,"p":0.410,"s":"Gaussian"},{"d":387,"p":0.393,"s":"Gaussian"},{"d":452,"p":0.401,"s":"Gaussian"},{"d":466,"p":0.414,"s":"Gaussian"},{"d":469,"p":0.413,"s":"Gaussian"},{"d":296,"p":0.363,"s":"Gaussian"},{"d":307,"p":0.361,"s":"Gaussian"},{"d":325,"p":0.370,"s":"Gaussian"},{"d":324,"p":0.359,"s":"Gaussian"},{"d":260,"p":0.349,"s":"Gaussian"},{"d":262,"p":0.335,"s":"Gaussian"},{"d":297,"p":0.338,"s":"Gaussian"},{"d":346,"p":0.351,"s":"Gaussian"},{"d":364,"p":0.361,"s":"Gaussian"},{"d":414,"p":0.353,"s":"Gaussian"},{"d":423,"p":0.375,"s":"Gaussian"},{"d":433,"p":0.335,"s":"Gaussian"},{"d":354,"p":0.329,"s":"Gaussian"},{"d":348,"p":0.312,"s":"Gaussian"},{"d":363,"p":0.314,"s":"Gaussian"},{"d":315,"p":0.316,"s":"Gaussian"},{"d":322,"p":0.295,"s":"Gaussian"},{"d":401,"p":0.305,"s":"Gaussian"},{"d":466,"p":0.292,"s":"Gaussian"},{"d":470,"p":0.283,"s":"Gaussian"},{"d":293,"p":0.274,"s":"Gaussian"},{"d":309,"p":0.276,"s":"Gaussian"},{"d":301,"p":0.259,"s":"Gaussian"},{"d":290,"p":0.249,"s":"Gaussian"},{"d":319,"p":0.248,"s":"Gaussian"},{"d":333,"p":0.263,"s":"Gaussian"},{"d":344,"p":0.267,"s":"Gaussian"},{"d":258,"p":0.257,"s":"Gaussian"},{"d":261,"p":0.248,"s":"Gaussian"},{"d":371,"p":0.262,"s":"Gaussian"},{"d":378,"p":0.260,"s":"Gaussian"},{"d":370,"p":0.257,"s":"Gaussian"},{"d":351,"p":0.240,"s":"Gaussian"},{"d":348,"p":0.228,"s":"Gaussian"},{"d":341,"p":0.223,"s":"Gaussian"},{"d":388,"p":0.234,"s":"Gaussian"},{"d":404,"p":0.235,"s":"Gaussian"},{"d":421,"p":0.253,"s":"Gaussian"},{"d":435,"p":0.257,"s":"Gaussian"},{"d":446,"p":0.244,"s":"Gaussian"},{"d":458,"p":0.214,"s":"Gaussian"},{"d":277,"p":0.214,"s":"Gaussian"},{"d":275,"p":0.208,"s":"Gaussian"},{"d":250,"p":0.222,"s":"Gaussian"},{"d":369,"p":0.204,"s":"Gaussian"},{"d":355,"p":0.203,"s":"Gaussian"},{"d":352,"p":0.190,"s":"Gaussian"},{"d":426,"p":0.203,"s":"Gaussian"},{"d":402,"p":0.202,"s":"Gaussian"},{"d":445,"p":0.192,"s":"Gaussian"},{"d":421,"p":0.183,"s":"Gaussian"},{"d":365,"p":0.179,"s":"Gaussian"},{"d":377,"p":0.181,"s":"Gaussian"},{"d":304,"p":0.187,"s":"Gaussian"},{"d":434,"p":0.164,"s":"Gaussian"},{"d":269,"p":0.151,"s":"Gaussian"},{"d":281,"p":0.133,"s":"Gaussian"},{"d":321,"p":0.143,"s":"Gaussian"},{"d":352,"p":0.149,"s":"Gaussian"},{"d":408,"p":0.141,"s":"Gaussian"},{"d":456,"p":0.139,"s":"Gaussian"},{"d":368,"p":0.130,"s":"Gaussian"},{"d":375,"p":0.124,"s":"Gaussian"},{"d":244,"p":0.098,"s":"Gaussian"},{"d":298,"p":0.098,"s":"Gaussian"},{"d":300,"p":0.079,"s":"Gaussian"},{"d":335,"p":0.090,"s":"Gaussian"},{"d":384,"p":0.094,"s":"Gaussian"},{"d":403,"p":0.082,"s":"Gaussian"},{"d":383,"p":0.069,"s":"Gaussian"},{"d":366,"p":0.057,"s":"Gaussian"},{"d":394,"p":0.054,"s":"Gaussian"},{"d":284,"p":0.049,"s":"Gaussian"},{"d":287,"p":0.033,"s":"Gaussian"},{"d":311,"p":0.049,"s":"Gaussian"},{"d":316,"p":0.039,"s":"Gaussian"},{"d":328,"p":0.028,"s":"Gaussian"},{"d":375,"p":0.031,"s":"Gaussian"},{"d":384,"p":0.036,"s":"Gaussian"},{"d":407,"p":0.039,"s":"Gaussian"},{"d":419,"p":0.038,"s":"Gaussian"},{"d":428,"p":0.039,"s":"Gaussian"},{"d":431,"p":0.030,"s":"Gaussian"},{"d":439,"p":0.030,"s":"Gaussian"},{"d":342,"p":0.013,"s":"Gaussian"},{"d":305,"p":0.013,"s":"Gaussian"},{"d":237,"p":0.015,"s":"Gaussian"},{"d":464,"p":0.017,"s":"Gaussian"},
      {"d":487,"p":0.990,"s":"Gaussian"},{"d":551,"p":0.978,"s":"Gaussian"},{"d":589,"p":0.988,"s":"Gaussian"},{"d":602,"p":0.988,"s":"Gaussian"},{"d":617,"p":0.992,"s":"Gaussian"},{"d":658,"p":0.988,"s":"Gaussian"},{"d":568,"p":0.971,"s":"Gaussian"},{"d":686,"p":0.937,"s":"Gaussian"},{"d":473,"p":0.857,"s":"Gaussian"},{"d":476,"p":0.825,"s":"Gaussian"},{"d":469,"p":0.782,"s":"Gaussian"},{"d":464,"p":0.750,"s":"Gaussian"},{"d":467,"p":0.729,"s":"Gaussian"},{"d":481,"p":0.710,"s":"Gaussian"},{"d":504,"p":0.710,"s":"Gaussian"},{"d":511,"p":0.702,"s":"Gaussian"},{"d":531,"p":0.702,"s":"Gaussian"},{"d":536,"p":0.700,"s":"Gaussian"},{"d":490,"p":0.685,"s":"Gaussian"},{"d":480,"p":0.673,"s":"Gaussian"},{"d":464,"p":0.668,"s":"Gaussian"},{"d":487,"p":0.649,"s":"Gaussian"},{"d":561,"p":0.686,"s":"Gaussian"},{"d":587,"p":0.686,"s":"Gaussian"},{"d":591,"p":0.700,"s":"Gaussian"},{"d":603,"p":0.673,"s":"Gaussian"},{"d":610,"p":0.685,"s":"Gaussian"},{"d":611,"p":0.677,"s":"Gaussian"},{"d":641,"p":0.707,"s":"Gaussian"},{"d":651,"p":0.712,"s":"Gaussian"},{"d":642,"p":0.686,"s":"Gaussian"},{"d":651,"p":0.689,"s":"Gaussian"},{"d":652,"p":0.664,"s":"Gaussian"},{"d":650,"p":0.658,"s":"Gaussian"},{"d":590,"p":0.648,"s":"Gaussian"},{"d":531,"p":0.647,"s":"Gaussian"},{"d":535,"p":0.637,"s":"Gaussian"},{"d":533,"p":0.621,"s":"Gaussian"},{"d":564,"p":0.610,"s":"Gaussian"},{"d":566,"p":0.619,"s":"Gaussian"},{"d":596,"p":0.610,"s":"Gaussian"},{"d":629,"p":0.643,"s":"Gaussian"},{"d":513,"p":0.602,"s":"Gaussian"},{"d":524,"p":0.578,"s":"Gaussian"},{"d":552,"p":0.581,"s":"Gaussian"},{"d":639,"p":0.584,"s":"Gaussian"},{"d":635,"p":0.562,"s":"Gaussian"},{"d":637,"p":0.551,"s":"Gaussian"},{"d":610,"p":0.554,"s":"Gaussian"},{"d":607,"p":0.543,"s":"Gaussian"},{"d":601,"p":0.528,"s":"Gaussian"},{"d":502,"p":0.559,"s":"Gaussian"},{"d":475,"p":0.546,"s":"Gaussian"},{"d":555,"p":0.548,"s":"Gaussian"},{"d":565,"p":0.543,"s":"Gaussian"},{"d":673,"p":0.545,"s":"Gaussian"},{"d":466,"p":0.592,"s":"Gaussian"},{"d":620,"p":0.750,"s":"Gaussian"},{"d":645,"p":0.750,"s":"Gaussian"},{"d":542,"p":0.750,"s":"Gaussian"},{"d":530,"p":0.756,"s":"Gaussian"},{"d":497,"p":0.755,"s":"Gaussian"},{"d":564,"p":0.508,"s":"Gaussian"},{"d":586,"p":0.729,"s":"Gaussian"},{"d":555,"p":0.726,"s":"Gaussian"},
      {"d":471,"p":0.489,"s":"Gaussian"},{"d":574,"p":0.489,"s":"Gaussian"},{"d":594,"p":0.492,"s":"Gaussian"},{"d":641,"p":0.491,"s":"Gaussian"},{"d":667,"p":0.488,"s":"Gaussian"},{"d":659,"p":0.467,"s":"Gaussian"},{"d":687,"p":0.467,"s":"Gaussian"},{"d":478,"p":0.463,"s":"Gaussian"},{"d":484,"p":0.452,"s":"Gaussian"},{"d":539,"p":0.437,"s":"Gaussian"},{"d":520,"p":0.422,"s":"Gaussian"},{"d":514,"p":0.403,"s":"Gaussian"},{"d":522,"p":0.397,"s":"Gaussian"},{"d":518,"p":0.380,"s":"Gaussian"},{"d":522,"p":0.376,"s":"Gaussian"},{"d":486,"p":0.376,"s":"Gaussian"},{"d":483,"p":0.389,"s":"Gaussian"},{"d":555,"p":0.408,"s":"Gaussian"},{"d":534,"p":0.365,"s":"Gaussian"},{"d":553,"p":0.362,"s":"Gaussian"},{"d":580,"p":0.376,"s":"Gaussian"},{"d":600,"p":0.370,"s":"Gaussian"},{"d":579,"p":0.354,"s":"Gaussian"},{"d":612,"p":0.418,"s":"Gaussian"},{"d":624,"p":0.410,"s":"Gaussian"},{"d":638,"p":0.400,"s":"Gaussian"},{"d":648,"p":0.407,"s":"Gaussian"},{"d":665,"p":0.401,"s":"Gaussian"},{"d":688,"p":0.422,"s":"Gaussian"},{"d":679,"p":0.359,"s":"Gaussian"},{"d":627,"p":0.349,"s":"Gaussian"},{"d":640,"p":0.340,"s":"Gaussian"},{"d":612,"p":0.332,"s":"Gaussian"},{"d":620,"p":0.311,"s":"Gaussian"},{"d":631,"p":0.324,"s":"Gaussian"},{"d":643,"p":0.311,"s":"Gaussian"},{"d":647,"p":0.298,"s":"Gaussian"},{"d":504,"p":0.353,"s":"Gaussian"},{"d":500,"p":0.330,"s":"Gaussian"},{"d":511,"p":0.316,"s":"Gaussian"},{"d":526,"p":0.325,"s":"Gaussian"},{"d":485,"p":0.306,"s":"Gaussian"},{"d":467,"p":0.291,"s":"Gaussian"},{"d":472,"p":0.281,"s":"Gaussian"},{"d":528,"p":0.286,"s":"Gaussian"},{"d":604,"p":0.295,"s":"Gaussian"},{"d":660,"p":0.284,"s":"Gaussian"},{"d":664,"p":0.281,"s":"Gaussian"},{"d":673,"p":0.272,"s":"Gaussian"},{"d":680,"p":0.278,"s":"Gaussian"},{"d":678,"p":0.268,"s":"Gaussian"},{"d":598,"p":0.260,"s":"Gaussian"},{"d":627,"p":0.254,"s":"Gaussian"},{"d":683,"p":0.241,"s":"Gaussian"},{"d":656,"p":0.223,"s":"Gaussian"},{"d":476,"p":0.214,"s":"Gaussian"},{"d":493,"p":0.214,"s":"Gaussian"},{"d":582,"p":0.214,"s":"Gaussian"},{"d":518,"p":0.249,"s":"Gaussian"},{"d":542,"p":0.202,"s":"Gaussian"},{"d":548,"p":0.193,"s":"Gaussian"},{"d":540,"p":0.193,"s":"Gaussian"},{"d":562,"p":0.198,"s":"Gaussian"},{"d":566,"p":0.204,"s":"Gaussian"},{"d":541,"p":0.181,"s":"Gaussian"},{"d":606,"p":0.197,"s":"Gaussian"},{"d":683,"p":0.203,"s":"Gaussian"},{"d":684,"p":0.187,"s":"Gaussian"},{"d":676,"p":0.179,"s":"Gaussian"},{"d":648,"p":0.170,"s":"Gaussian"},{"d":657,"p":0.168,"s":"Gaussian"},{"d":666,"p":0.168,"s":"Gaussian"},{"d":668,"p":0.155,"s":"Gaussian"},{"d":500,"p":0.147,"s":"Gaussian"},{"d":529,"p":0.158,"s":"Gaussian"},{"d":545,"p":0.147,"s":"Gaussian"},{"d":479,"p":0.138,"s":"Gaussian"},{"d":526,"p":0.134,"s":"Gaussian"},{"d":574,"p":0.134,"s":"Gaussian"},{"d":614,"p":0.141,"s":"Gaussian"},{"d":631,"p":0.138,"s":"Gaussian"},{"d":680,"p":0.120,"s":"Gaussian"},{"d":494,"p":0.114,"s":"Gaussian"},{"d":497,"p":0.106,"s":"Gaussian"},{"d":512,"p":0.102,"s":"Gaussian"},{"d":535,"p":0.098,"s":"Gaussian"},{"d":590,"p":0.104,"s":"Gaussian"},{"d":523,"p":0.085,"s":"Gaussian"},{"d":538,"p":0.081,"s":"Gaussian"},{"d":631,"p":0.082,"s":"Gaussian"},{"d":496,"p":0.057,"s":"Gaussian"},{"d":499,"p":0.049,"s":"Gaussian"},{"d":482,"p":0.043,"s":"Gaussian"},{"d":576,"p":0.068,"s":"Gaussian"},{"d":636,"p":0.060,"s":"Gaussian"},{"d":595,"p":0.054,"s":"Gaussian"},{"d":559,"p":0.057,"s":"Gaussian"},{"d":545,"p":0.028,"s":"Gaussian"},{"d":571,"p":0.028,"s":"Gaussian"},{"d":600,"p":0.020,"s":"Gaussian"},{"d":674,"p":0.028,"s":"Gaussian"},{"d":578,"p":0.009,"s":"Gaussian"},{"d":476,"p":0.007,"s":"Gaussian"},{"d":683,"p":0.009,"s":"Gaussian"}
    ]
  },
  "layer": [
    {
      "mark": {
        "type": "point",
        "shape": "M-1,0H1M0,-1V1",
        "filled": false,
        "size": 90,
        "strokeWidth": 1.2,
        "opacity": 0.8,
        "clip": true
      },
      "encoding": {
        "x": {
          "field": "d",
          "type": "quantitative",
          "scale": {"domain": [0, 700], "nice": false, "zero": false},
          "axis": {
            "orient": "bottom",
            "values": [0, 100, 200, 300, 400, 500, 600, 700],
            "grid": false,
            "domain": false,
            "labelFlush": false,
            "tickSize": -6,
            "tickColor": "#000000",
            "labelPadding": 15,
            "labelFont": "Liberation Serif",
            "labelFontSize": 38,
            "labelColor": "#000000",
            "title": "Days",
            "titleFont": "Liberation Serif",
            "titleFontSize": 39,
            "titleFontWeight": "normal",
            "titleColor": "#000000",
            "titlePadding": 2
          }
        },
        "y": {
          "field": "p",
          "type": "quantitative",
          "scale": {"domain": [0, 1], "nice": false},
          "axis": {
            "orient": "left",
            "values": [0, 0.2, 0.4, 0.6, 0.8, 1.0],
            "format": ".1f",
            "grid": false,
            "domain": false,
            "labelFlush": false,
            "tickSize": -6,
            "tickColor": "#000000",
            "labelPadding": 18,
            "labelFont": "Liberation Serif",
            "labelFontSize": 38,
            "labelColor": "#000000",
            "title": "p",
            "titleFont": "Liberation Serif",
            "titleFontSize": 39,
            "titleFontWeight": "normal",
            "titleColor": "#000000",
            "titlePadding": 2
          }
        },
        "color": {
          "field": "s",
          "type": "nominal",
          "scale": {"domain": ["Data", "Gaussian"], "range": ["#0000ff", "#ff0000"]},
          "legend": {
            "title": null,
            "orient": "none",
            "legendX": 470,
            "legendY": 16,
            "strokeColor": "#222222",
            "fillColor": "#ffffff",
            "padding": 10,
            "symbolType": "M-1,0H1M0,-1V1",
            "symbolSize": 324,
            "symbolStrokeWidth": 1.2,
            "symbolOpacity": 1,
            "labelFont": "Liberation Serif",
            "labelFontSize": 36,
            "labelColor": "#000000",
            "labelOffset": 10,
            "rowPadding": 12
          }
        }
      }
    },
    {
      "mark": {"type": "point", "opacity": 0},
      "encoding": {
        "x": {
          "field": "d",
          "type": "quantitative",
          "scale": {"domain": [0, 700], "nice": false, "zero": false},
          "axis": {
            "orient": "top",
            "values": [0, 100, 200, 300, 400, 500, 600, 700],
            "grid": false,
            "domain": false,
            "labels": false,
            "tickSize": -6,
            "tickColor": "#000000",
            "title": null
          }
        },
        "y": {
          "field": "p",
          "type": "quantitative",
          "scale": {"domain": [0, 1], "nice": false},
          "axis": {
            "orient": "right",
            "values": [0, 0.2, 0.4, 0.6, 0.8, 1.0],
            "grid": false,
            "domain": false,
            "labels": false,
            "tickSize": -6,
            "tickColor": "#000000",
            "title": null
          }
        }
      }
    }
  ],
  "resolve": {"axis": {"x": "independent", "y": "independent"}}
}
